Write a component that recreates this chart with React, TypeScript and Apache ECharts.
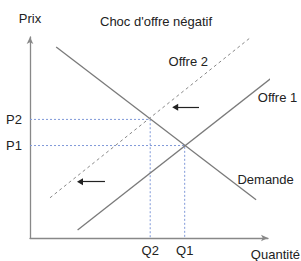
import React, { useEffect, useRef } from "react";
import * as echarts from "echarts";

const titleText = "Choc d'offre négatif";
const xName = "Quantité";
const yName = "Prix";
// curves (x = quantity, y = price), axis range 0..100
const demande: number[][] = [[11, 95], [95, 19]];
const offre1: number[][] = [[20, 4], [104, 82]];
const offre2: number[][] = [[8.4, 20], [92.4, 99.5]];
// equilibria
const qValues = [65, 50.5];
const pValues = [46, 59];
const qLabels = ["Q1", "Q2"];
const pLabels = ["P1", "P2"];
// shift arrows [fromX, toX, y]
const shiftArrows: number[][] = [[71, 61, 65], [31.5, 21, 28]];
// curve names and label anchors
const curveLabels = [
  { name: "Offre 2", at: [66.5, 88] },
  { name: "Offre 1", at: [104, 70] },
  { name: "Demande", at: [99, 29] },
];

const FONT = "'Liberation Sans', Arial, sans-serif";
const TXT = "#222";
const LINE = "#7a7a7a";
const DOT = "#7f98d8";

export default function App() {
  const ref = useRef<HTMLDivElement>(null);
  useEffect(() => {
    if (!ref.current) return;
    const chart = echarts.init(ref.current, undefined, { renderer: "svg" });
    const lineStyleBase = { color: LINE, width: 1.3 };
    const series: any[] = [
      {
        type: "line", data: demande, symbol: "none", clip: false,
        lineStyle: { ...lineStyleBase },
      },
      {
        type: "line", data: offre1, symbol: "none", clip: false,
        lineStyle: { ...lineStyleBase },
      },
      {
        type: "line", data: offre2, symbol: "none", clip: false,
        lineStyle: { color: "#888", width: 1, type: [3, 3] },
      },
    ];
    qValues.forEach((q, i) => {
      series.push({
        type: "line",
        data: [[0, pValues[i]], [q, pValues[i]], [q, 0]],
        symbol: "none",
        lineStyle: { color: DOT, width: 1, type: [2, 2] },
        z: 1,
      });
    });
    series.push({
      type: "line",
      data: [],
      markLine: {
        silent: true,
        symbol: ["none", "triangle"],
        symbolSize: [7, 6],
        label: { show: false },
        lineStyle: { color: "#222", width: 1.2, type: "solid" },
        data: shiftArrows.map((a) => [
          { coord: [a[0], a[2]] },
          { coord: [a[1], a[2]] },
        ]),
      },
    });

    chart.setOption({
      animation: false,
      title: {
        text: titleText,
        left: 95,
        top: 10,
        textStyle: { fontSize: 13, fontWeight: "normal", color: TXT, fontFamily: FONT },
      },
      grid: { left: 30, right: 33, top: 37, bottom: 23 },
      xAxis: {
        type: "value",
        min: 0,
        max: 100,
        splitLine: { show: false },
        axisTick: { show: false },
        axisLine: {
          onZero: false,
          symbol: ["none", "arrow"],
          symbolSize: [5, 7],
          lineStyle: { color: "#888", width: 1.3 },
        },
        axisLabel: {
          customValues: qValues,
          formatter: (v: number) => qLabels[qValues.indexOf(v)] ?? "",
          color: TXT,
          fontSize: 13,
          fontFamily: FONT,
          margin: 6,
        },
      },
      yAxis: {
        type: "value",
        min: 0,
        max: 100,
        name: yName,
        nameGap: 12,
        nameTextStyle: { color: TXT, fontSize: 13, fontFamily: FONT },
        splitLine: { show: false },
        axisTick: { show: false },
        axisLine: {
          onZero: false,
          symbol: ["none", "arrow"],
          symbolSize: [5, 7],
          lineStyle: { color: "#888", width: 1.3 },
        },
        axisLabel: {
          customValues: pValues,
          formatter: (v: number) => pLabels[pValues.indexOf(v)] ?? "",
          color: TXT,
          fontSize: 13,
          fontFamily: FONT,
          margin: 8,
        },
      },
      series,
    });

    const labelGraphics: any[] = curveLabels.map((c) => {
      const [px, py] = chart.convertToPixel({ gridIndex: 0 }, c.at) as number[];
      return {
        type: "text",
        x: px,
        y: py,
        style: {
          text: c.name,
          fill: TXT,
          font: `13px ${FONT}`,
          align: "center",
          verticalAlign: "middle",
        },
      };
    });
    labelGraphics.push({
      type: "text",
      right: 1,
      top: 248,
      style: { text: xName, fill: TXT, font: `13px ${FONT}` },
    });
    chart.setOption({ graphic: labelGraphics });
    return () => chart.dispose();
  }, []);
  return (
    <div
      ref={ref}
      style={{ position: "fixed", left: 0, top: 0, width: 301, height: 261, background: "#fff" }}
    />
  );
}
